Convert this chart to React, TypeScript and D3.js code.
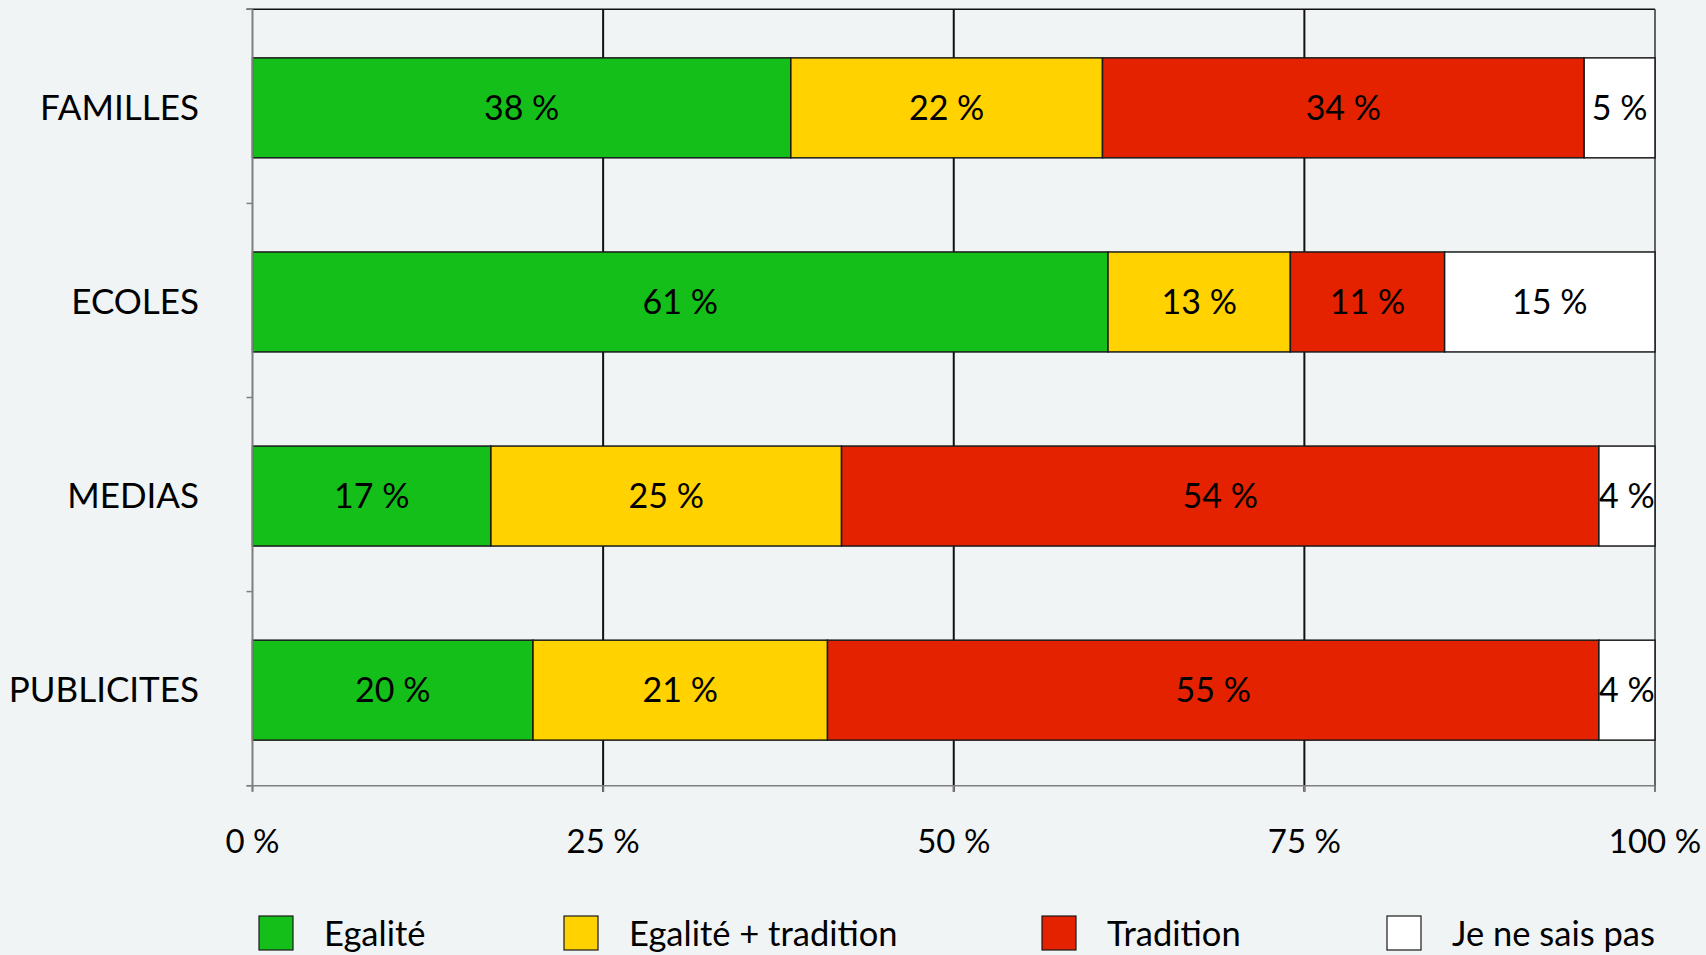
import React, { useEffect, useRef } from 'react';
import * as d3 from 'd3';

const categories = ['FAMILLES', 'ECOLES', 'MEDIAS', 'PUBLICITES'];
const seriesNames = ['Egalité', 'Egalité + tradition', 'Tradition', 'Je ne sais pas'];
const egalite = [38, 61, 17, 20];
const egaliteTradition = [22, 13, 25, 21];
const tradition = [34, 11, 54, 55];
const neSaisPas = [5, 15, 4, 4];
const xTicks = [0, 0.25, 0.5, 0.75, 1];
const colors = ['#14bf1a', '#ffd200', '#e52200', '#ffffff'];

type Row = { cat: string; [key: string]: number | string };

const App: React.FC = () => {
  const svgRef = useRef<SVGSVGElement>(null);

  useEffect(() => {
    if (!svgRef.current) return;
    const svg = d3.select(svgRef.current);
    svg.selectAll('*').remove();

    const W = 1706;
    const H = 955;
    const font = 'Lato, "Noto Sans", sans-serif';

    svg.append('rect').attr('width', W).attr('height', H).attr('fill', '#f0f4f5');

    const rows: Row[] = categories.map((c, i) => ({
      cat: c,
      [seriesNames[0]]: egalite[i],
      [seriesNames[1]]: egaliteTradition[i],
      [seriesNames[2]]: tradition[i],
      [seriesNames[3]]: neSaisPas[i],
    }));

    // 100% stacked, each row normalised to its own total
    const stacked = d3.stack<Row>()
      .keys(seriesNames)
      .value((d, k) => d[k] as number)
      .offset(d3.stackOffsetExpand)(rows);

    const left = 252.5, right = 1655, top = 9.3, bottom = 785.7;
    const x = d3.scaleLinear().domain([0, 1]).range([left, right]);
    const pad = 0.485;
    const y = d3.scaleBand<string>()
      .domain(categories)
      .range([top, bottom])
      .paddingInner(pad)
      .paddingOuter(pad / 2);
    const step = y.step();
    const barY = (c: string) => (y(c) as number) + 1.5;

    // gridlines
    svg.append('g')
      .selectAll('line')
      .data(xTicks.filter(t => t > 0 && t < 1))
      .enter().append('line')
      .attr('x1', d => x(d)).attr('x2', d => x(d))
      .attr('y1', top).attr('y2', bottom + 6)
      .attr('stroke', '#111').attr('stroke-width', 2);

    // top and right border
    svg.append('line')
      .attr('x1', left - 6).attr('x2', right)
      .attr('y1', top).attr('y2', top)
      .attr('stroke', '#111').attr('stroke-width', 1.5);
    svg.append('line')
      .attr('x1', right).attr('x2', right)
      .attr('y1', top).attr('y2', bottom + 6)
      .attr('stroke', '#333').attr('stroke-width', 1.5);

    // bars
    const layers = svg.append('g')
      .selectAll('g')
      .data(stacked)
      .enter().append('g')
      .attr('fill', (d, i) => colors[i]);

    layers.selectAll('rect')
      .data(d => d)
      .enter().append('rect')
      .attr('x', d => x(d[0]))
      .attr('y', d => barY(d.data.cat))
      .attr('width', d => x(d[1]) - x(d[0]))
      .attr('height', y.bandwidth())
      .attr('stroke', '#1a1a1a')
      .attr('stroke-width', 1.5);

    // value labels
    stacked.forEach(layer => {
      svg.append('g')
        .selectAll('text')
        .data(layer)
        .enter().append('text')
        .attr('x', d => (x(d[0]) + x(d[1])) / 2)
        .attr('y', d => barY(d.data.cat) + y.bandwidth() / 2)
        .attr('dy', '0.35em')
        .attr('text-anchor', 'middle')
        .attr('font-family', font)
        .attr('font-size', 34)
        .attr('fill', '#000')
        .text(d => `${d.data[layer.key]} %`);
    });

    // left axis
    svg.append('line')
      .attr('x1', left).attr('x2', left)
      .attr('y1', top).attr('y2', bottom + 6)
      .attr('stroke', '#7f7f7f').attr('stroke-width', 2);
    svg.append('g')
      .selectAll('line')
      .data(d3.range(categories.length + 1))
      .enter().append('line')
      .attr('x1', left - 6).attr('x2', left)
      .attr('y1', i => top + i * step).attr('y2', i => top + i * step)
      .attr('stroke', '#7f7f7f').attr('stroke-width', 1.5);

    // bottom axis
    svg.append('line')
      .attr('x1', left - 6).attr('x2', right)
      .attr('y1', bottom).attr('y2', bottom)
      .attr('stroke', '#7f7f7f').attr('stroke-width', 1.5);
    svg.append('g')
      .selectAll('line')
      .data(xTicks)
      .enter().append('line')
      .attr('x1', d => x(d)).attr('x2', d => x(d))
      .attr('y1', bottom).attr('y2', bottom + 6)
      .attr('stroke', '#7f7f7f').attr('stroke-width', 1.5);

    // x tick labels
    svg.append('g')
      .selectAll('text')
      .data(xTicks)
      .enter().append('text')
      .attr('x', d => x(d))
      .attr('y', 853)
      .attr('text-anchor', 'middle')
      .attr('font-family', font)
      .attr('font-size', 33)
      .attr('fill', '#000')
      .text(d => `${Math.round(d * 100)} %`);

    // category labels
    svg.append('g')
      .selectAll('text')
      .data(categories)
      .enter().append('text')
      .attr('x', 199)
      .attr('y', d => barY(d) + y.bandwidth() / 2)
      .attr('dy', '0.35em')
      .attr('text-anchor', 'end')
      .attr('font-family', font)
      .attr('font-size', 35)
      .attr('fill', '#000')
      .text(d => d);

    // legend
    const legendX = [259, 564, 1042, 1387];
    const legend = svg.append('g')
      .selectAll('g')
      .data(seriesNames)
      .enter().append('g')
      .attr('transform', (d, i) => `translate(${legendX[i]},916)`);

    legend.append('rect')
      .attr('width', 34).attr('height', 34)
      .attr('fill', (d, i) => colors[i])
      .attr('stroke', '#1a1a1a').attr('stroke-width', 1.2);

    legend.append('text')
      .attr('x', 65)
      .attr('y', 30)
      .attr('font-family', font)
      .attr('font-size', 34.5)
      .attr('fill', '#000')
      .text(d => d);
  }, []);

  return (
    <svg
      ref={svgRef}
      width={1706}
      height={955}
      style={{ position: 'absolute', left: 0, top: 0, display: 'block' }}
    />
  );
};

export default App;
